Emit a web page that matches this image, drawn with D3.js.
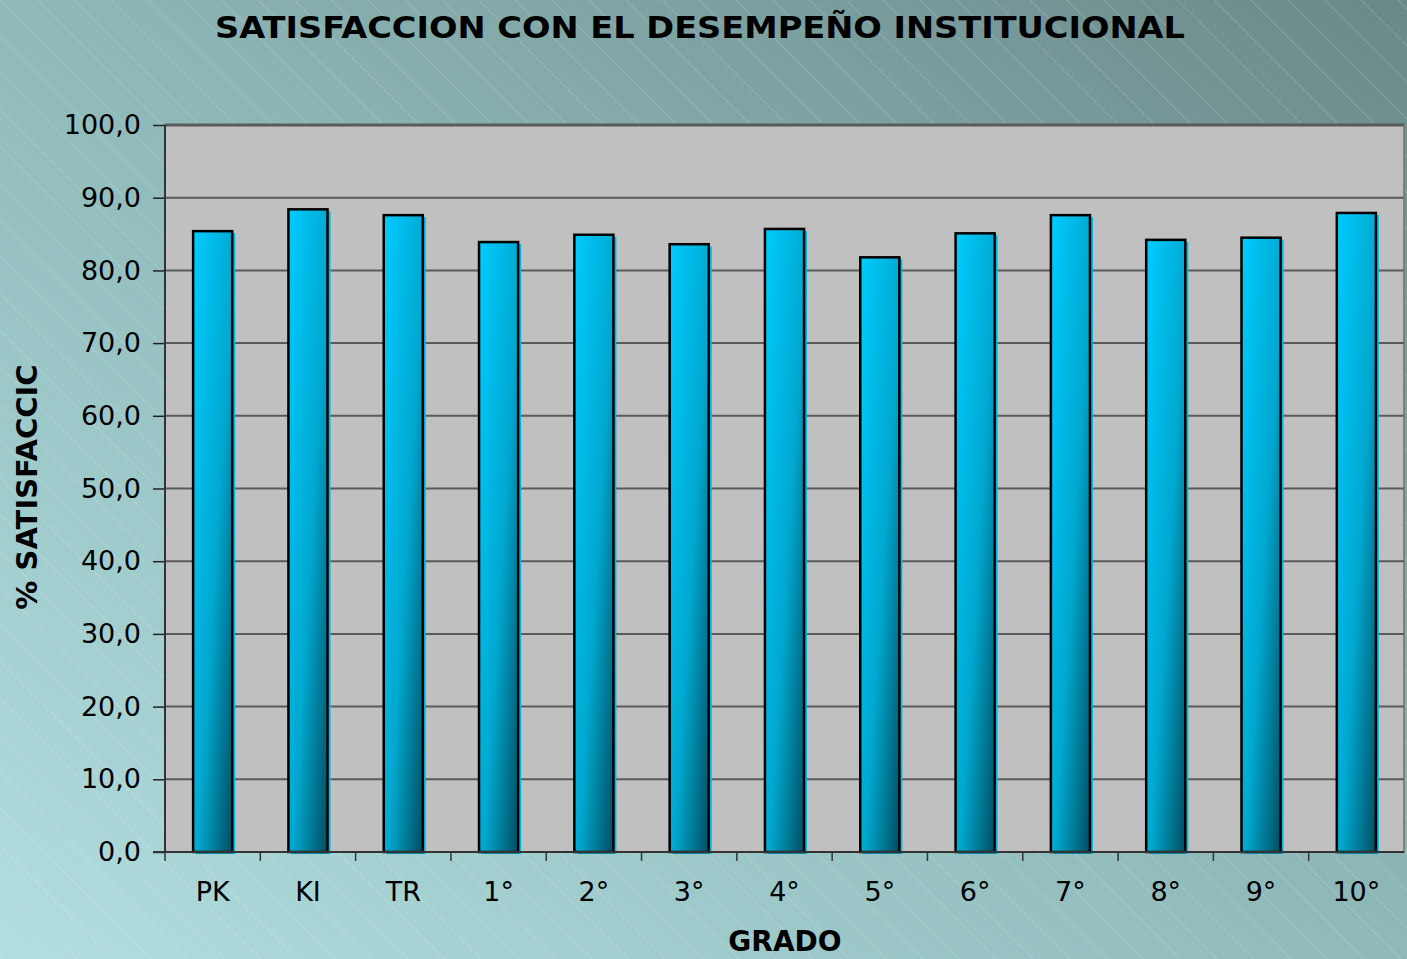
<!DOCTYPE html>
<html lang="es">
<head>
<meta charset="UTF-8">
<title>Satisfaccion</title>
<script src="https://d3js.org/d3.v7.min.js"></script>
<style>
  body { margin: 0; }
  .axis text { fill: #000; font: 27px "DejaVu Sans", sans-serif; }
  .axis line, .axis path { stroke: #222; stroke-width: 1.5; }
</style>
</head>
<body>
<script>
var categories = ["PK", "KI", "TR", "1°", "2°", "3°", "4°", "5°", "6°", "7°", "8°", "9°", "10°"];
var values = [85.4, 88.4, 87.6, 83.9, 84.9, 83.6, 85.7, 81.8, 85.1, 87.6, 84.2, 84.5, 87.9];
var yTicks = [0, 10, 20, 30, 40, 50, 60, 70, 80, 90, 100];

var W = 1407, H = 959;
var margin = {top: 125, right: 3, bottom: 107, left: 165};
var width = W - margin.left - margin.right,
    height = H - margin.top - margin.bottom;

var svg = d3.select("body").append("svg")
    .attr("width", W).attr("height", H);

var defs = svg.append("defs");
var bg = defs.append("linearGradient").attr("id", "bg")
    .attr("x1", "0").attr("y1", "1").attr("x2", "1").attr("y2", "0");
bg.append("stop").attr("offset", "0").attr("stop-color", "#b2dedf");
bg.append("stop").attr("offset", "0.5").attr("stop-color", "#8fb9b9");
bg.append("stop").attr("offset", "1").attr("stop-color", "#6b8888");

var pat = defs.append("pattern").attr("id", "hatch")
    .attr("patternUnits", "userSpaceOnUse")
    .attr("width", 26).attr("height", 26)
    .attr("patternTransform", "rotate(-45)");
pat.append("line").attr("x1", 0).attr("y1", 0).attr("x2", 0).attr("y2", 26)
    .attr("stroke", "#ffffff").attr("stroke-opacity", 0.3).attr("stroke-width", 1);

var barGrad = defs.append("linearGradient").attr("id", "bar")
    .attr("x1", "0").attr("y1", "0").attr("x2", "1").attr("y2", "1");
barGrad.append("stop").attr("offset", "0").attr("stop-color", "#00ccff");
barGrad.append("stop").attr("offset", "0.55").attr("stop-color", "#00a8d0");
barGrad.append("stop").attr("offset", "1").attr("stop-color", "#004e60");

svg.append("rect").attr("width", W).attr("height", H).attr("fill", "url(#bg)");
svg.append("rect").attr("width", W).attr("height", H).attr("fill", "url(#hatch)");

var g = svg.append("g")
    .attr("transform", "translate(" + margin.left + "," + margin.top + ")");

var x = d3.scaleBand().domain(categories).range([0, width]).paddingInner(0.59).paddingOuter(0.295);
var band = d3.scaleBand().domain(categories).range([0, width]);
var y = d3.scaleLinear().domain([0, 100]).range([height, 0]);

g.append("rect").attr("width", width).attr("height", height)
    .attr("fill", "#c0c0c0").attr("stroke", "#808080").attr("stroke-width", 2);

g.selectAll(".grid").data(yTicks.slice(1)).enter().append("line")
    .attr("x1", 0).attr("x2", width)
    .attr("y1", function(d) { return y(d); }).attr("y2", function(d) { return y(d); })
    .attr("stroke", "#5a5a5a").attr("stroke-width", function(d) { return d === 100 ? 3 : 2; });

// bar shadow
g.selectAll(".shadow").data(values).enter().append("rect")
    .attr("x", function(d, i) { return x(categories[i]) + 3; })
    .attr("y", function(d) { return y(d) + 2; })
    .attr("width", x.bandwidth())
    .attr("height", function(d) { return height - y(d); })
    .attr("fill", "#00b8e6");

g.selectAll(".bar").data(values).enter().append("rect")
    .attr("class", "bar")
    .attr("x", function(d, i) { return x(categories[i]); })
    .attr("y", function(d) { return y(d); })
    .attr("width", x.bandwidth())
    .attr("height", function(d) { return height - y(d); })
    .attr("fill", "url(#bar)")
    .attr("stroke", "#000").attr("stroke-width", 2.5);

// y axis
var yAxis = g.append("g").attr("class", "axis")
    .call(d3.axisLeft(y).tickValues(yTicks).tickSize(12).tickPadding(12)
        .tickFormat(function(d) { return d3.format(".1f")(d).replace(".", ","); }));
yAxis.select(".domain").remove();
g.append("line").attr("x1", 0).attr("x2", 0).attr("y1", 0).attr("y2", height)
    .attr("stroke", "#333").attr("stroke-width", 2);

// x axis
var xAxis = g.append("g").attr("class", "axis")
    .attr("transform", "translate(0," + height + ")")
    .call(d3.axisBottom(x).tickSize(0).tickPadding(30));
xAxis.select(".domain").remove();
g.append("line").attr("x1", -12).attr("x2", width).attr("y1", height).attr("y2", height)
    .attr("stroke", "#333").attr("stroke-width", 2);
g.selectAll(".xtick").data(categories).enter().append("line")
    .attr("x1", function(d) { return band(d); }).attr("x2", function(d) { return band(d); })
    .attr("y1", height).attr("y2", height + 9)
    .attr("stroke", "#333").attr("stroke-width", 1.5);

// titles
svg.append("text").attr("x", 700).attr("y", 38)
    .attr("text-anchor", "middle")
    .attr("textLength", 970).attr("lengthAdjust", "spacingAndGlyphs")
    .style("font", "bold 31px 'DejaVu Sans', sans-serif")
    .text("SATISFACCION CON EL DESEMPEÑO INSTITUCIONAL");

svg.append("text").attr("x", 785).attr("y", 951)
    .attr("text-anchor", "middle")
    .style("font", "bold 28px 'DejaVu Sans', sans-serif")
    .text("GRADO");

svg.append("text")
    .attr("transform", "translate(37,487) rotate(-90)")
    .attr("text-anchor", "middle")
    .style("font", "bold 29px 'DejaVu Sans', sans-serif")
    .text("% SATISFACCIC");
</script>
</body>
</html>
